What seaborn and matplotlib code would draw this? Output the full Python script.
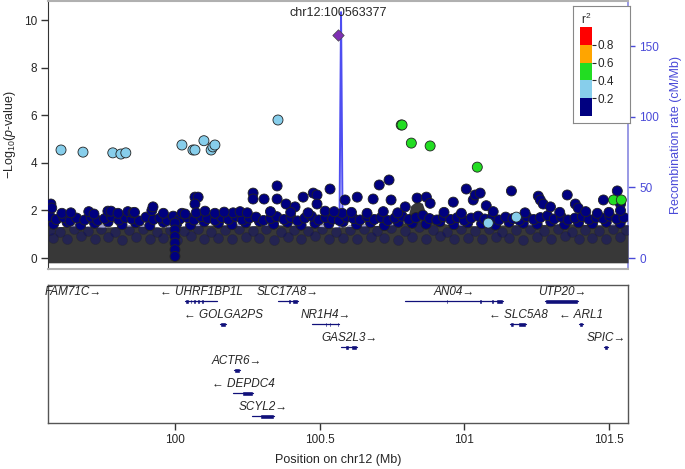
import numpy as np
import pandas as pd
import matplotlib
matplotlib.use("Agg")
import matplotlib.pyplot as plt
import seaborn as sns

sns.set_style("ticks")
plt.rcParams["font.family"] = ["Liberation Sans", "DejaVu Sans"]
plt.rcParams["mathtext.fontset"] = "custom"
plt.rcParams["mathtext.rm"] = "Liberation Sans"
plt.rcParams["mathtext.it"] = "Liberation Sans:italic"

# --- SNP data (position in Mb, -log10 p) ---
navy_pos = [99.571, 99.574, 99.609, 99.702, 99.768, 99.779, 99.803, 99.837, 99.855, 99.920,
            99.924, 100.024, 100.035, 100.069, 100.080, 100.069, 100.073, 100.104, 100.138, 100.201,
            100.225, 100.270, 100.270, 100.308, 100.353, 100.353, 100.384, 100.415, 100.443, 100.478,
            100.491, 100.491, 100.519, 100.536, 100.578, 100.588, 100.630, 100.664, 100.685, 100.706,
            100.740, 100.747, 100.796, 100.837, 100.869, 100.882, 100.962, 101.007, 101.031, 101.038,
            101.055, 101.076, 101.163, 101.256, 101.263, 101.273, 101.298, 101.356, 101.384, 101.394,
            101.481, 101.529, 101.540, 101.540,
            99.640, 99.720, 99.860, 99.960, 100.170, 100.250, 100.330, 100.400, 100.460, 100.550,
            100.610, 100.720, 100.770, 100.930, 100.990, 101.100, 101.210, 101.330, 101.420, 101.460,
            101.500]
navy_val = [2.27, 2.10, 1.88, 1.95, 1.97, 1.97, 1.88, 1.95, 1.90, 2.00,
            2.15, 1.88, 1.85, 2.56, 2.56, 2.27, 1.90, 1.97, 1.88, 1.90,
            1.95, 2.73, 2.48, 2.48, 3.03, 2.48, 2.27, 2.15, 2.56, 2.73,
            2.65, 2.27, 1.97, 2.90, 1.88, 2.44, 2.56, 1.88, 2.48, 3.07,
            3.28, 2.44, 2.15, 2.52, 2.56, 2.30, 2.35, 2.90, 2.44, 2.65,
            2.73, 2.20, 2.82, 2.60, 2.44, 2.27, 2.15, 2.65, 2.27, 2.10,
            2.44, 2.82, 2.27, 2.00,
            1.90, 1.85, 1.92, 1.88, 1.93, 1.90, 1.95, 1.92, 1.90, 1.95,
            1.92, 1.95, 1.90, 1.92, 1.88, 1.95, 1.90, 1.92, 1.95, 1.88,
            1.92]

band_pos = [99.568, 99.590, 99.616, 99.637, 99.660, 99.688, 99.710, 99.733, 99.757, 99.781,
            99.806, 99.829, 99.851, 99.877, 99.900, 99.926, 99.948, 99.973, 99.994, 100.017,
            100.043, 100.066, 100.090, 100.113, 100.139, 100.162, 100.185, 100.210, 100.233, 100.257,
            100.280, 100.306, 100.330, 100.352, 100.377, 100.401, 100.424, 100.449, 100.472, 100.497,
            100.520, 100.545, 100.568, 100.593, 100.617, 100.640, 100.664, 100.689, 100.712, 100.736,
            100.760, 100.785, 100.808, 100.833, 100.857, 100.880, 100.905, 100.928, 100.953, 100.976,
            101.000, 101.024, 101.048, 101.071, 101.096, 101.120, 101.143, 101.168, 101.191, 101.216,
            101.240, 101.263, 101.288, 101.311, 101.336, 101.359, 101.383, 101.408, 101.431, 101.456,
            101.480, 101.503, 101.527, 101.552]
band_val = [1.75, 1.62, 1.70, 1.55, 1.68, 1.60, 1.72, 1.58, 1.66, 1.74,
            1.60, 1.70, 1.64, 1.56, 1.72, 1.62, 1.68, 1.58, 1.76, 1.64,
            1.70, 1.60, 1.74, 1.66, 1.58, 1.70, 1.62, 1.75, 1.60, 1.68,
            1.72, 1.58, 1.66, 1.74, 1.62, 1.70, 1.56, 1.68, 1.76, 1.60,
            1.70, 1.64, 1.58, 1.72, 1.66, 1.60, 1.74, 1.62, 1.70, 1.58,
            1.68, 1.76, 1.62, 1.70, 1.80, 1.66, 1.60, 1.74, 1.62, 1.70,
            1.58, 1.68, 1.76, 1.64, 1.70, 1.60, 1.72, 1.66, 1.58, 1.74,
            1.62, 1.70, 1.78, 1.64, 1.72, 1.60, 1.68, 1.74, 1.62, 1.70,
            1.66, 1.76, 1.64, 1.70]

band2_pos = [99.580, 99.627, 99.674, 99.722, 99.769, 99.817, 99.864, 99.913, 99.960, 100.006,
             100.054, 100.101, 100.150, 100.197, 100.245, 100.292, 100.341, 100.389, 100.436, 100.484,
             100.532, 100.581, 100.628, 100.676, 100.724, 100.772, 100.820, 100.868, 100.916, 100.964,
             101.012, 101.060, 101.108, 101.155, 101.204, 101.252, 101.299, 101.347, 101.395, 101.443,
             101.491, 101.539]
band2_val = [1.42, 1.50, 1.38, 1.46, 1.52, 1.40, 1.48, 1.36, 1.50, 1.44,
             1.38, 1.52, 1.46, 1.40, 1.48, 1.54, 1.42, 1.50, 1.38, 1.46,
             1.44, 1.52, 1.40, 1.48, 1.36, 1.50, 1.46, 1.42, 1.52, 1.40,
             1.48, 1.44, 1.38, 1.50, 1.46, 1.42, 1.52, 1.40, 1.48, 1.44,
             1.50, 1.46]

# faint rows inside the dense mass
band3_pos = [99.568, 99.603, 99.650, 99.698, 99.745, 99.793, 99.840, 99.888, 99.937, 99.983,
             100.030, 100.078, 100.125, 100.173, 100.221, 100.268, 100.316, 100.365, 100.412, 100.460,
             100.508, 100.556, 100.604, 100.652, 100.700, 100.748, 100.796, 100.844, 100.892, 100.940,
             100.988, 101.036, 101.084, 101.131, 101.180, 101.228, 101.275, 101.323, 101.371, 101.419,
             101.467, 101.515, 101.558]
band3_val = [1.18, 1.10, 1.22, 1.12, 1.20, 1.08, 1.16, 1.24, 1.10, 1.18,
             1.14, 1.22, 1.08, 1.16, 1.20, 1.12, 1.24, 1.10, 1.18, 1.14,
             1.22, 1.08, 1.16, 1.20, 1.12, 1.26, 1.14, 1.30, 1.18, 1.10,
             1.20, 1.14, 1.22, 1.08, 1.16, 1.20, 1.12, 1.22, 1.10, 1.18,
             1.14, 1.20, 1.16]
band4_val = [0.85, 0.78, 0.92, 0.80, 0.88, 0.74, 0.90, 0.82, 0.86, 0.76,
             0.92, 0.80, 0.86, 0.78, 0.90, 0.84, 0.76, 0.88, 0.82, 0.92,
             0.78, 0.86, 0.80, 0.90, 0.84, 0.76, 0.88, 0.82, 0.92, 0.78,
             0.86, 0.80, 0.90, 0.84, 0.76, 0.88, 0.82, 0.92, 0.78, 0.86,
             0.80, 0.88]

column_pos = [100.0, 100.0, 100.0, 100.0, 100.0, 100.0]
column_val = [1.47, 1.18, 0.90, 0.63, 0.35, 0.07]

lblue_pos = [99.606, 99.682, 99.785, 99.813, 99.830, 100.024, 100.062, 100.069, 100.100, 100.125,
             100.131, 100.138, 100.356, 101.083, 101.180]
lblue_val = [4.54, 4.45, 4.42, 4.37, 4.42, 4.75, 4.54, 4.54, 4.93, 4.54,
             4.67, 4.75, 5.80, 1.47, 1.72]

green_pos = [100.782, 100.785, 100.817, 100.882, 101.045, 101.516, 101.543]
green_val = [5.59, 5.59, 4.83, 4.71, 3.82, 2.44, 2.44]

lead_pos = 100.563377
lead_val = 9.37
lead_name = "chr12:100563377"

# dense low-significance mass (upper edge)
mass_pos = [99.56, 99.65, 99.75, 99.85, 99.95, 100.05, 100.15, 100.25, 100.35, 100.45, 100.55,
            100.65, 100.75, 100.80, 100.815, 100.835, 100.855, 100.875, 100.95, 101.05, 101.15,
            101.25, 101.35, 101.45, 101.566]
mass_top = [1.30, 1.35, 1.30, 1.35, 1.30, 1.35, 1.40, 1.35, 1.40, 1.35, 1.30,
            1.35, 1.40, 1.50, 2.20, 2.40, 2.30, 1.60, 1.40, 1.35, 1.40,
            1.40, 1.45, 1.40, 1.40]

# recombination rate (cM/Mb)
recomb_pos = [99.56, 100.50, 100.568, 100.572, 100.574, 100.576, 100.580, 100.65, 101.566]
recomb_rate = [0.5, 0.8, 4.0, 120.0, 174.0, 120.0, 4.0, 0.8, 0.5]

# genes: name, start, end, row, strand, exons
genes = [
    ("FAM71C", 99.646, 99.649, 0, "+", [(99.646, 0.003)]),
    ("UHRF1BP1L", 100.035, 100.145, 0, "-", [(100.035, 0.012), (100.052, 0.006), (100.062, 0.010),
                                               (100.077, 0.008), (100.090, 0.012), (100.108, 0.004),
                                               (100.143, 0.003)]),
    ("SLC17A8", 100.356, 100.426, 0, "+", [(100.356, 0.004), (100.372, 0.005), (100.390, 0.010),
                                            (100.404, 0.020)]),
    ("AN04", 100.796, 101.135, 0, "+", [(100.796, 0.003), (100.903, 0.004), (100.920, 0.004),
                                         (100.938, 0.005), (100.972, 0.004), (100.985, 0.004),
                                         (101.013, 0.004), (101.040, 0.004), (101.052, 0.008),
                                         (101.082, 0.005), (101.094, 0.010), (101.110, 0.025)]),
    ("UTP20", 101.280, 101.394, 0, "+", [(101.280, 0.114)]),
    ("GOLGA2PS", 100.156, 100.176, 1, "-", [(100.156, 0.020)]),
    ("NR1H4", 100.474, 100.567, 1, "+", [(100.474, 0.004), (100.486, 0.004), (100.500, 0.004),
                                          (100.520, 0.004), (100.533, 0.006), (100.560, 0.007)]),
    ("SLC5A8", 101.159, 101.215, 1, "-", [(101.159, 0.013), (101.173, 0.003), (101.186, 0.029)]),
    ("ARL1", 101.398, 101.412, 1, "-", [(101.398, 0.014)]),
    ("GAS2L3", 100.574, 100.630, 2, "+", [(100.574, 0.003), (100.588, 0.012), (100.607, 0.023)]),
    ("SPIC", 101.484, 101.498, 2, "+", [(101.484, 0.014)]),
    ("ACTR6", 100.204, 100.225, 3, "+", [(100.204, 0.021)]),
    ("DEPDC4", 100.201, 100.270, 4, "-", [(100.201, 0.004), (100.215, 0.004), (100.230, 0.040)]),
    ("SCYL2", 100.266, 100.343, 5, "+", [(100.266, 0.004), (100.280, 0.004), (100.294, 0.049)]),
]

xticks = [100, 100.5, 101, 101.5]
r2_levels = ["0-0.2", "0.2-0.4", "0.4-0.6", "0.6-0.8", "0.8-1"]
r2_colors = {"0-0.2": "#000080", "0.2-0.4": "#87CEEB", "0.4-0.6": "#22DD22",
             "0.6-0.8": "#FFA500", "0.8-1": "#FF0000"}

faint = pd.concat([
    pd.DataFrame({"pos": band2_pos, "logp": band4_val}),
    pd.DataFrame({"pos": band3_pos, "logp": band3_val}),
], ignore_index=True)

snps = pd.concat([
    pd.DataFrame({"pos": band2_pos, "logp": band2_val, "r2": "0-0.2"}),
    pd.DataFrame({"pos": band_pos, "logp": band_val, "r2": "0-0.2"}),
    pd.DataFrame({"pos": navy_pos, "logp": navy_val, "r2": "0-0.2"}),
    pd.DataFrame({"pos": column_pos, "logp": column_val, "r2": "0-0.2"}),
    pd.DataFrame({"pos": lblue_pos, "logp": lblue_val, "r2": "0.2-0.4"}),
    pd.DataFrame({"pos": green_pos, "logp": green_val, "r2": "0.4-0.6"}),
], ignore_index=True)

W, H = 685, 469
fig = plt.figure(figsize=(W / 100, H / 100), dpi=100)
xlim = (99.561, 101.566)
ylim = (-0.46, 10.8)
scale = 150 / 8.908  # cM/Mb per -log10 unit

ax = fig.add_axes([48 / W, 1 - 269 / H, 580 / W, 268 / H])
ax2 = ax.twinx()
ax.set_zorder(ax2.get_zorder() + 1)
ax.patch.set_visible(False)

# recombination line behind points
ax2.plot(recomb_pos, recomb_rate, color="#3b3bf0", lw=1.4, alpha=0.9)
ax2.set_ylim(ylim[0] * scale, ylim[1] * scale)
ax2.set_yticks([0, 50, 100, 150])
blue = "#4a4ad8"
ax2.tick_params(axis="y", colors=blue, labelsize=8.5, length=5, width=1, pad=3)
for s in ["top", "bottom", "left"]:
    ax2.spines[s].set_visible(False)
ax2.spines["right"].set_color("#8888e0")
ax2.spines["right"].set_linewidth(1.2)
ax2.set_ylabel("Recombination rate (cM/Mb)", color=blue, fontsize=9, labelpad=8)

ax.fill_between(mass_pos, -0.2, mass_top, color="#383838", lw=0, zorder=1)
sns.scatterplot(data=faint, x="pos", y="logp", color="#000080", alpha=0.35, s=52,
                edgecolor="#222222", linewidth=0.6, legend=False, ax=ax, zorder=2)
sns.scatterplot(data=snps, x="pos", y="logp", hue="r2", palette=r2_colors,
                hue_order=r2_levels, s=52, edgecolor="#222222", linewidth=0.6,
                legend=False, ax=ax, zorder=3)
ax.scatter([lead_pos], [lead_val], marker="D", s=34, color="#7F2FB5",
           edgecolor="#444444", linewidth=0.5, zorder=4)
ax.text(lead_pos, 10.3, lead_name, ha="center", va="center", fontsize=9)

ax.set_xlim(xlim)
ax.set_ylim(ylim)
ax.set_xticks([])
ax.set_xlabel("")
ax.set_yticks([0, 2, 4, 6, 8, 10])
ax.tick_params(axis="y", labelsize=8.5, length=5, width=1, color="#333333", pad=3)
ax.set_ylabel("\u2212Log$_{10}$($\\it{p}$-value)", fontsize=9, labelpad=4)
ax.spines["right"].set_visible(False)
ax.spines["left"].set_color("#333333")
for s in ["top", "bottom"]:
    ax.spines[s].set_color("#b0b0b0")
    ax.spines[s].set_linewidth(1.5)

# r2 legend
box = fig.add_axes([573 / W, 1 - 123 / H, 57 / W, 117 / H])
box.set_xticks([])
box.set_yticks([])
for s in box.spines.values():
    s.set_color("#888888")
    s.set_linewidth(0.8)
box.set_facecolor("white")
cb = fig.add_axes([580 / W, 1 - 116 / H, 12 / W, 89 / H])
for i, lev in enumerate(r2_levels):
    cb.bar(0.5, 0.2, bottom=i * 0.2, width=1, color=r2_colors[lev], lw=0)
cb.set_xlim(0, 1)
cb.set_ylim(0, 1)
cb.set_xticks([])
cb.yaxis.tick_right()
cb.set_yticks([0.2, 0.4, 0.6, 0.8])
cb.set_yticklabels(["0.2", "0.4", "0.6", "0.8"])
cb.tick_params(axis="y", labelsize=8.5, length=3, width=0.8, pad=1)
for s in cb.spines.values():
    s.set_visible(False)
cb.set_title("r$^2$", fontsize=8.5, pad=1)

# gene panel
gx = fig.add_axes([48 / W, 1 - 423 / H, 580 / W, 138 / H])
gene_color = "#10107a"
for name, start, end, row, strand, exons in genes:
    gx.plot([start, end], [row, row], color=gene_color, lw=0.9)
    gx.broken_barh(exons, (row - 0.11, 0.22), facecolors=gene_color)
    label = name + "\u2192" if strand == "+" else "\u2190 " + name
    gx.text((start + end) / 2, row - 0.38, label, ha="center", va="center",
            fontsize=8.5, style="italic")
gx.set_xlim(xlim)
gx.set_ylim(5.3, -0.7)
gx.set_yticks([])
gx.set_xticks(xticks)
gx.set_xticklabels(["100", "100.5", "101", "101.5"])
gx.tick_params(axis="x", labelsize=8.5, length=5, width=1, color="#333333", pad=3)
for s in gx.spines.values():
    s.set_color("#555555")
    s.set_linewidth(1)
gx.set_xlabel("Position on chr12 (Mb)", fontsize=9, labelpad=6)

fig.savefig("out.png", dpi=100)
